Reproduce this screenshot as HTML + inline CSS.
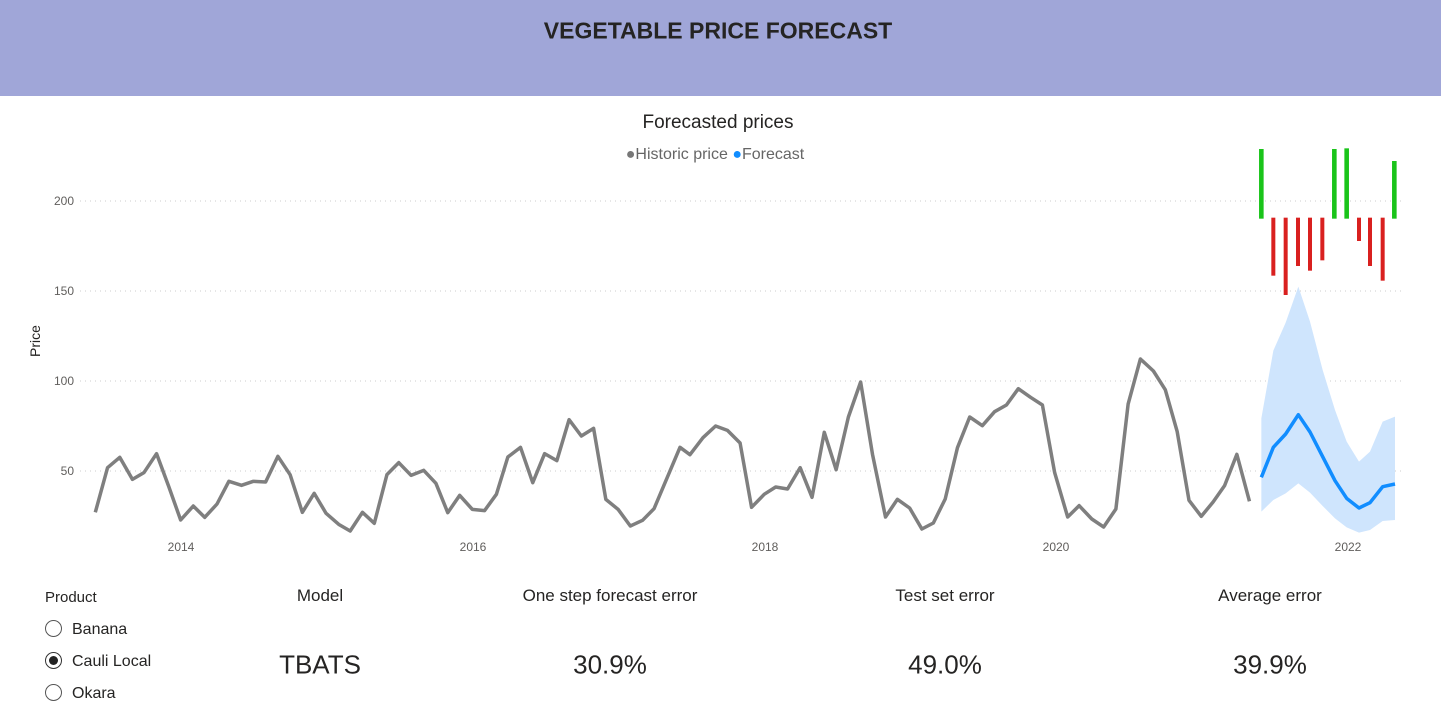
<!DOCTYPE html>
<html><head><meta charset="utf-8"><style>
body{margin:0;width:1441px;height:708px;overflow:hidden;background:#fff;font-family:"Liberation Sans","DejaVu Sans",sans-serif;position:relative}
.hdr{position:absolute;left:0;top:0;width:1441px;height:96px;background:#a0a6d8}
.t{position:absolute;white-space:nowrap;transform:translate(-50%,-50%)}
</style></head><body>
<div class="hdr"></div>
<div class="t" style="left:718px;top:31px;font-size:23px;font-weight:bold;color:#252423">VEGETABLE PRICE FORECAST</div>
<svg id="s" width="1441" height="708" style="position:absolute;left:0;top:0"></svg>
<div class="t" style="left:718px;top:123px;font-size:19px;color:#252423">Forecasted prices</div>
<div class="t" style="left:715px;top:155px;font-size:16px;color:#666"><span style="color:#777">●</span>Historic price <span style="color:#118dff">●</span>Forecast</div>
<div style="position:absolute;left:45px;top:589px;font-size:15px;color:#252423">Product</div>
<div style="position:absolute;left:45px;top:614px;font-size:16px;color:#252423;line-height:32px">
<div><span style="display:inline-block;width:15px;height:15px;border:1px solid #555;border-radius:50%;vertical-align:-3px;margin-right:10px"></span>Banana</div>
<div><span style="display:inline-block;border:1px solid #333;border-radius:50%;vertical-align:-3px;margin-right:10px;box-sizing:border-box;position:relative;width:17px;height:17px"><span style="position:absolute;left:3px;top:3px;width:9px;height:9px;border-radius:50%;background:#222"></span></span>Cauli Local</div>
<div><span style="display:inline-block;width:15px;height:15px;border:1px solid #555;border-radius:50%;vertical-align:-3px;margin-right:10px"></span>Okara</div>
</div>
<div class="t" style="left:320px;top:596px;font-size:17px;color:#252423">Model</div>
<div class="t" style="left:610px;top:596px;font-size:17px;color:#252423">One step forecast error</div>
<div class="t" style="left:945px;top:596px;font-size:17px;color:#252423">Test set error</div>
<div class="t" style="left:1270px;top:596px;font-size:17px;color:#252423">Average error</div>
<div class="t" style="left:320px;top:665px;font-size:26px;color:#252423">TBATS</div>
<div class="t" style="left:610px;top:665px;font-size:26px;color:#252423">30.9%</div>
<div class="t" style="left:945px;top:665px;font-size:26px;color:#252423">49.0%</div>
<div class="t" style="left:1270px;top:665px;font-size:26px;color:#252423">39.9%</div>
<script>
var s=document.getElementById('s'),h='';
[[200,201],[150,291],[100,381],[50,471]].forEach(function(g){
h+='<line x1="80" x2="1405" y1="'+g[1]+'" y2="'+g[1]+'" stroke="#ccc" stroke-dasharray="1,4"/>';
h+='<text x="74" y="'+(g[1]+4)+'" font-size="12" fill="#605e5c" text-anchor="end" font-family="Liberation Sans">'+g[0]+'</text>';});
[[2014,181],[2016,473],[2018,765],[2020,1056],[2022,1348]].forEach(function(g){
h+='<text x="'+g[1]+'" y="551" font-size="12" fill="#605e5c" text-anchor="middle" font-family="Liberation Sans">'+g[0]+'</text>';});
h+='<text transform="translate(40,341) rotate(-90)" font-size="14" fill="#252423" text-anchor="middle" font-family="Liberation Sans">Price</text>';
var k=2.613,ky=3;
var z1=[[40,517],[72,383],[104,352],[137,418],[167,398],[200,341],[232,440],[263,540],[296,498],[326,532],[358,492],[389,424],[422,436],[453,424],[485,426],[517,349],[549,404],[581,517],[612,460],[643,520],[676,553],[706,573],[738,517],[769,550],[802,404],[833,368],[865,406],[898,391],[930,430],[961,518],[992,466],[1025,508],[1057,512],[1088,463],[1118,351],[1151,322],[1183,428],[1214,341],[1246,362],[1278,239],[1310,288],[1342,265],[1374,478],[1406,508],[1438,558],[1470,541],[1500,506]];
var z2=[[0,322],[26,344],[60,293],[93,258],[124,271],[157,309],[187,502],[220,463],[250,441],[281,447],[314,383],[345,472],[377,277],[408,389],[440,231],[472,126],[503,343],[537,531],[568,478],[600,504],[632,567],[662,549],[693,477],[725,323],[757,231],[790,257],[822,215],[853,195],[884,146],[916,172],[947,195],[979,398],[1013,531],[1043,497],[1076,537],[1107,561],[1139,507],[1171,192],[1203,57],[1237,93],[1268,149],[1299,274],[1330,481],[1362,529],[1393,486],[1423,437],[1455,343],[1488,484]];
var p=z1.map(function(a){return (80+a[0]/k)+','+(340+a[1]/ky)}).concat(z2.map(function(a){return (680+a[0]/k)+','+(340+a[1]/ky)}));
function f(a){return a.map(function(q){return (1240+q[0]/3)+','+(140+q[1]/3)})}
var up=[[64,835],[100,632],[137,548],[175,440],[210,545],[248,690],[285,810],[320,905],[357,965],[390,935],[428,845],[465,830]];
var lo=[[64,1115],[100,1080],[137,1060],[175,1030],[210,1058],[248,1098],[285,1135],[320,1162],[357,1178],[390,1170],[428,1143],[465,1140]];
var bl=[[64,1012],[100,922],[137,882],[175,824],[210,876],[248,950],[285,1022],[320,1075],[357,1104],[390,1088],[428,1040],[465,1032]];
h+='<polygon points="'+f(up).concat(f(lo.slice().reverse())).join(' ')+'" fill="#cfe5fd"/>';
h+='<polyline points="'+p.join(' ')+'" fill="none" stroke="#7f7f7f" stroke-width="3.5" stroke-linejoin="round"/>';
h+='<polyline points="'+f(bl).join(' ')+'" fill="none" stroke="#118dff" stroke-width="3.5" stroke-linejoin="round"/>';
[[64,27],[283,27],[320,25],[463,63]].forEach(function(b){h+='<rect x="'+(1240+b[0]/3-2.3)+'" y="'+(140+b[1]/3)+'" width="4.6" height="'+((236-b[1])/3)+'" fill="#1ac41a"/>';});
[[100,407],[137,465],[174,378],[210,392],[247,361],[357,303],[390,378],[428,422]].forEach(function(b){h+='<rect x="'+(1240+b[0]/3-2)+'" y="'+(140+233/3)+'" width="4" height="'+((b[1]-233)/3)+'" fill="#d9201f"/>';});
s.innerHTML=h;
</script>
</body></html>
